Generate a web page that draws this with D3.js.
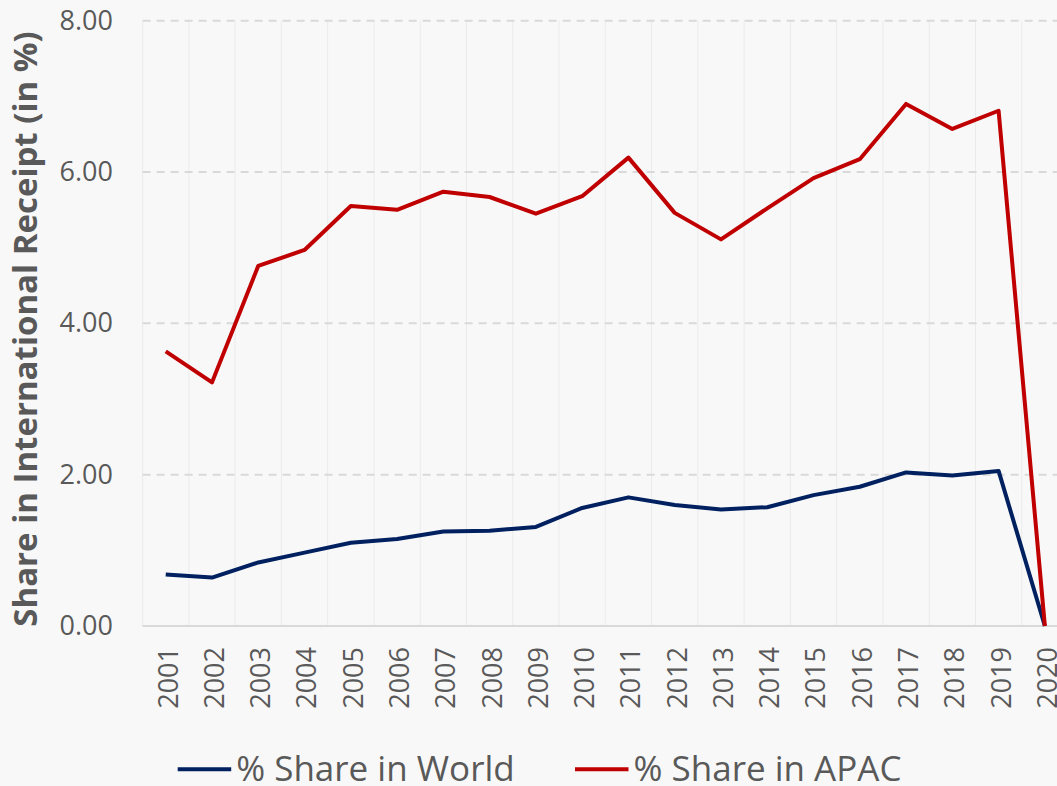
<!DOCTYPE html>
<html>
<head>
<meta charset="utf-8">
<script src="https://cdn.jsdelivr.net/npm/d3@7"></script>
<style>
  html, body { margin: 0; padding: 0; background: #F8F8F8; }
  svg { display: block; }
  text { font-family: "Open Sans", sans-serif; fill: #595959; }
</style>
</head>
<body>
<svg id="chart" width="1057" height="786"></svg>
<script>
const years = ["2001","2002","2003","2004","2005","2006","2007","2008","2009","2010",
               "2011","2012","2013","2014","2015","2016","2017","2018","2019","2020"];
const shareWorld = [0.68, 0.64, 0.84, 0.97, 1.10, 1.15, 1.25, 1.26, 1.31, 1.56,
                    1.70, 1.60, 1.54, 1.57, 1.73, 1.84, 2.03, 1.99, 2.05, 0.00];
const shareAPAC  = [3.63, 3.22, 4.76, 4.97, 5.55, 5.50, 5.74, 5.67, 5.45, 5.68,
                    6.19, 5.46, 5.11, 5.52, 5.92, 6.17, 6.90, 6.57, 6.81, 0.00];
const yTicks = [0, 2, 4, 6, 8];
const seriesNames = ["% Share in World", "% Share in APAC"];
const seriesColors = ["#002060", "#C00000"];
const yTitle = "Share in International Receipt (in %)";

const svg = d3.select("#chart");
svg.append("rect").attr("width", 1057).attr("height", 786).attr("fill", "#F8F8F8");

const x = d3.scaleBand().domain(years).range([142.6, 1068]).padding(0);
const cx = d => x(d) + x.bandwidth() / 2;
const y = d3.scaleLinear().domain([0, 8]).range([626, 20.7]);

// vertical gridlines at category boundaries
const bounds = years.map(d => x(d));
svg.append("g").selectAll("line").data(bounds).join("line")
  .attr("x1", d => d).attr("x2", d => d)
  .attr("y1", y(8)).attr("y2", y(0))
  .attr("stroke", "#EBEBEB").attr("stroke-width", 1);

// horizontal dashed gridlines
svg.append("g").selectAll("line").data(yTicks.filter(t => t > 0)).join("line")
  .attr("x1", 142.6).attr("x2", 1068)
  .attr("y1", d => y(d)).attr("y2", d => y(d))
  .attr("stroke", "#D9D9D9").attr("stroke-width", 2)
  .attr("stroke-dasharray", "8,6");

// x axis line
svg.append("line")
  .attr("x1", 142.6).attr("x2", 1068)
  .attr("y1", y(0)).attr("y2", y(0))
  .attr("stroke", "#D9D9D9").attr("stroke-width", 2);

// y axis via d3.axisLeft (labels only)
const yAxis = svg.append("g")
  .attr("transform", "translate(113,0)")
  .call(d3.axisLeft(y).tickValues(yTicks).tickFormat(d3.format(".2f")).tickSize(0).tickPadding(0));
yAxis.select(".domain").remove();
yAxis.selectAll("text")
  .style("font-family", "'Open Sans', sans-serif")
  .style("font-size", "27px")
  .attr("fill", "#595959");

// x axis labels via d3.axisBottom
const xAxis = svg.append("g")
  .attr("transform", `translate(0,${y(0)})`)
  .call(d3.axisBottom(x).tickSize(0).tickPadding(0));
xAxis.select(".domain").remove();
xAxis.selectAll("text")
  .style("font-family", "'Open Sans', sans-serif")
  .style("font-size", "27px")
  .attr("fill", "#595959")
  .attr("text-anchor", "end")
  .attr("transform", "translate(2.5,21) rotate(-90)")
  .attr("x", 0).attr("y", 0).attr("dy", "0.35em");

// lines
const line = d3.line().x((d, i) => cx(years[i])).y(d => y(d));
[shareWorld, shareAPAC].forEach((s, k) => {
  svg.append("path").datum(s)
    .attr("d", line)
    .attr("fill", "none")
    .attr("stroke", seriesColors[k])
    .attr("stroke-width", 4)
    .attr("stroke-linejoin", "round");
});

// y title
svg.append("text")
  .attr("transform", "translate(37,329) rotate(-90)")
  .attr("text-anchor", "middle")
  .style("font-size", "33px")
  .style("font-weight", "bold")
  .text(yTitle);

// legend
const legendX = [177.7, 575];
const legend = svg.append("g");
seriesNames.forEach((name, k) => {
  legend.append("line")
    .attr("x1", legendX[k]).attr("x2", legendX[k] + 53.5)
    .attr("y1", 769.3).attr("y2", 769.3)
    .attr("stroke", seriesColors[k]).attr("stroke-width", 4);
  legend.append("text")
    .attr("x", legendX[k] + 58.5).attr("y", 780.7)
    .style("font-size", "35px")
    .text(name);
});
</script>
</body>
</html>
